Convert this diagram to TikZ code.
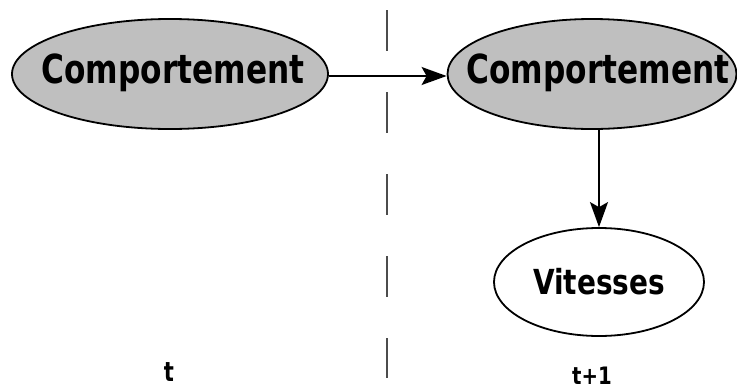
\documentclass[tikz,border=0pt]{standalone}
\usepackage{fontspec}
\setmainfont{DejaVu Sans}
\usetikzlibrary{shapes.geometric,arrows.meta}
\newcommand\sqz[3]{\scalebox{#1}[1]{\fontsize{#2}{#2}\selectfont\bfseries #3}}
\tikzset{
  ellnode/.style={ellipse, draw=black, line width=1.8pt, inner sep=0pt},
  grayell/.style={ellnode, fill=black!25},
  conn/.style={line width=1.8pt, -{Stealth[length=25pt,width=18pt,inset=5pt]}},
  txt/.style={inner sep=0pt},
  timelbl/.style={anchor=base, inner sep=0pt}
}
\begin{document}
\begin{tikzpicture}[x=1pt,y=-1pt]
\useasboundingbox (0,0) rectangle (737,389);
% dashed separator
\coordinate (dtop) at (387,10);
\coordinate (dbot) at (387,378);
\draw[black!70, line width=1.3pt, dash pattern=on 41pt off 41pt] (dtop) -- (dbot);
% nodes
\node[grayell, minimum width=316pt, minimum height=110pt] (L) at (170,74) {};
\node[grayell, minimum width=289pt, minimum height=110pt] (R) at (592,74) {};
\node[ellnode, fill=white, minimum width=210pt, minimum height=108pt] (V) at (599,282) {};
\node[txt] (Ltxt) at (173,73) {\sqz{0.78}{40}{Comportement}};
\node[txt] (Rtxt) at (598,73) {\sqz{0.78}{40}{Comportement}};
\node[txt] (Vtxt) at (599,282) {\sqz{0.81}{34.5}{Vitesses}};
% time labels
\node[timelbl] (t0) at (169,381) {\sqz{0.78}{27}{t}};
\node[timelbl] (t1) at (592,384) {\sqz{0.82}{24}{t+1}};
% connectors
\draw[conn] ([yshift=-2pt]L.east) -- ([yshift=-2pt]R.west);
\draw[conn] (V.north |- R.south) -- (V.north);
\end{tikzpicture}
\end{document}
